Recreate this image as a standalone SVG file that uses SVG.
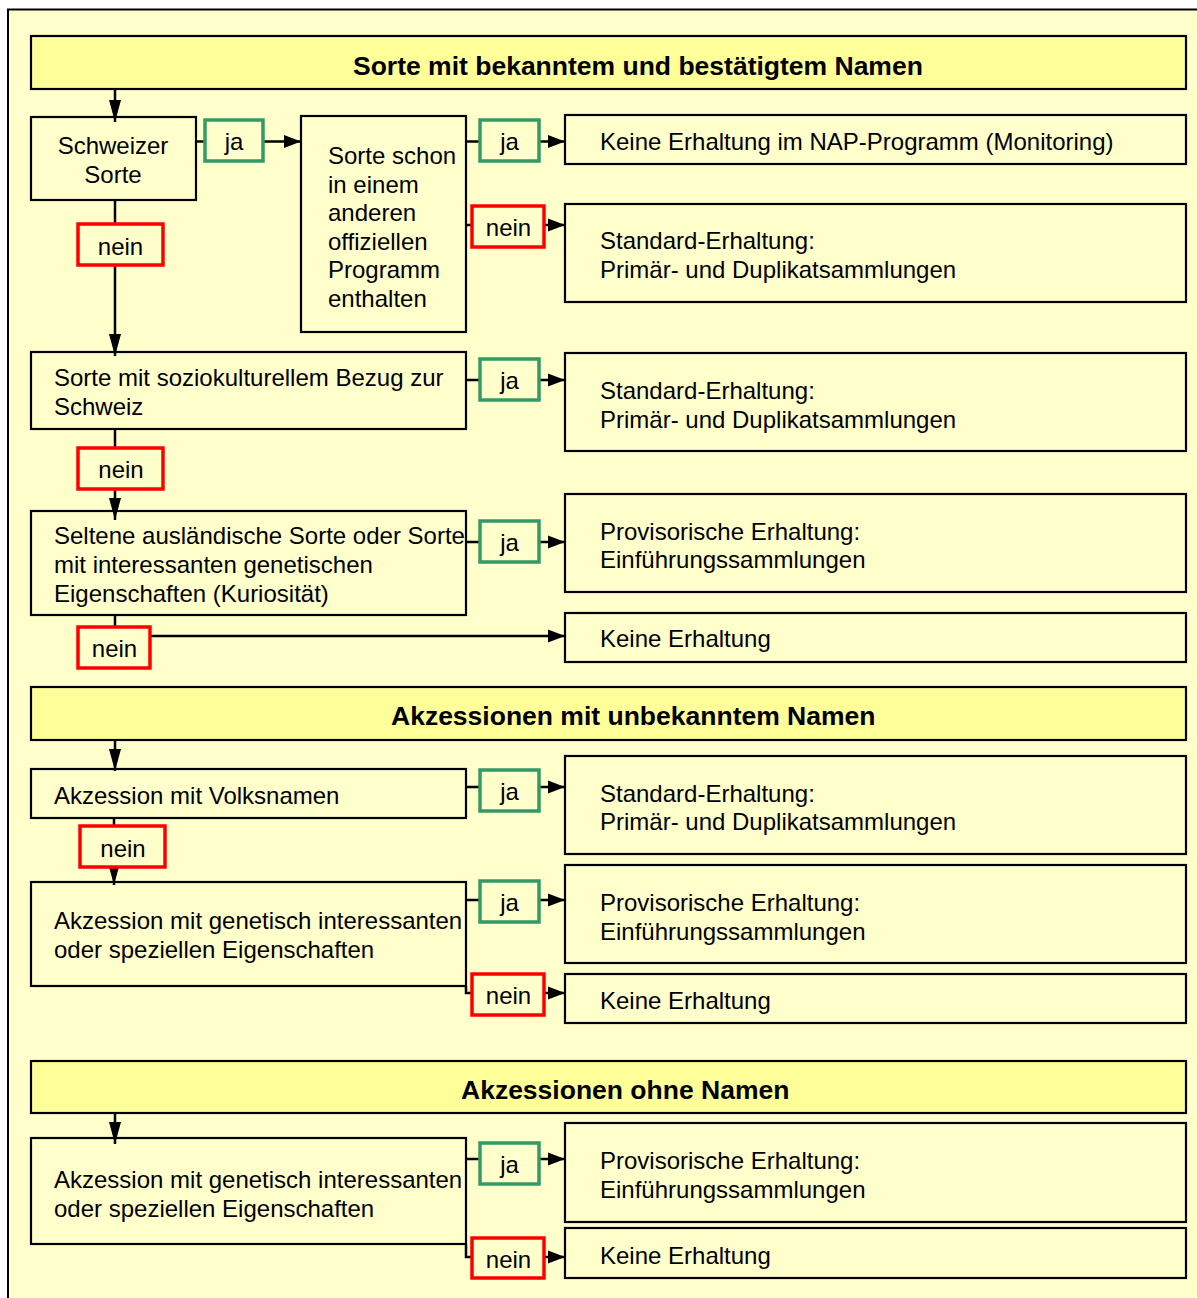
<svg xmlns="http://www.w3.org/2000/svg" width="1197" height="1298" viewBox="0 0 1197 1298">
<style>
.bg{fill:#FFFFCC}
.hd{fill:#FFFF99;stroke:#000;stroke-width:2.2}
.bx{fill:#FFFFCC;stroke:#000;stroke-width:2.2}
.ja{fill:#FFFFCC;stroke:#339966;stroke-width:3.5}
.ne{fill:#FFFFCC;stroke:#FF0000;stroke-width:3.5}
.c{fill:none;stroke:#000;stroke-width:2.5}
.ch{fill:none;stroke:#000;stroke-width:2.5;marker-end:url(#ah)}
.cv{fill:none;stroke:#000;stroke-width:2.5;marker-end:url(#av)}
text{font-family:"Liberation Sans",Arial,sans-serif;font-size:24px;fill:#000}
.h{font-weight:bold;font-size:26.5px}
.m{text-anchor:middle}
</style>
<defs>
<marker id="ah" viewBox="0 0 17 14" refX="17" refY="7" markerWidth="17" markerHeight="14" markerUnits="userSpaceOnUse" orient="auto">
<path d="M0,0.5 L17,7 L0,13.5 z" fill="#000"/>
</marker>
<marker id="av" viewBox="0 0 22 13" refX="22" refY="6.5" markerWidth="22" markerHeight="13" markerUnits="userSpaceOnUse" orient="auto">
<path d="M0,0.5 L22,6.5 L0,12.5 z" fill="#000"/>
</marker>
</defs>
<rect x="0" y="0" width="1197" height="1298" fill="#FFFFFF"/>
<rect class="bg" x="8" y="10" width="1189" height="1288"/>
<path d="M8,1298 V9.5 H1197" fill="none" stroke="#000" stroke-width="2"/>

<g id="header1"><rect class="hd" x="31" y="36" width="1155" height="53"/><text class="h" x="353" y="74.5">Sorte mit bekanntem und bestätigtem Namen</text></g>
<g id="schweizer"><rect class="bx" x="31" y="117" width="165" height="83"/><text class="m" x="113" y="154">Schweizer</text><text class="m" x="113" y="183">Sorte</text></g>
<g id="sorteschon"><rect class="bx" x="301" y="116" width="165" height="216"/><text x="328" y="164">Sorte schon</text><text x="328" y="193">in einem</text><text x="328" y="221">anderen</text><text x="328" y="250">offiziellen</text><text x="328" y="278">Programm</text><text x="328" y="307">enthalten</text></g>
<g id="keine1"><rect class="bx" x="565" y="115" width="621" height="49"/><text x="600" y="149.5">Keine Erhaltung im NAP-Programm (Monitoring)</text></g>
<g id="standard1"><rect class="bx" x="565" y="204" width="621" height="98"/><text x="600" y="249">Standard-Erhaltung:</text><text x="600" y="278">Primär- und Duplikatsammlungen</text></g>
<g id="sozio"><rect class="bx" x="31" y="352" width="435" height="77"/><text x="54" y="386">Sorte mit soziokulturellem Bezug zur</text><text x="54" y="415">Schweiz</text></g>
<g id="standard2"><rect class="bx" x="565" y="353" width="621" height="98"/><text x="600" y="398.5">Standard-Erhaltung:</text><text x="600" y="427.5">Primär- und Duplikatsammlungen</text></g>
<g id="seltene"><rect class="bx" x="31" y="511" width="435" height="104"/><text x="54" y="544">Seltene ausländische Sorte oder Sorte</text><text x="54" y="573">mit interessanten genetischen</text><text x="54" y="602">Eigenschaften (Kuriosität)</text></g>
<g id="prov1"><rect class="bx" x="565" y="494" width="621" height="98"/><text x="600" y="539.5">Provisorische Erhaltung:</text><text x="600" y="567.5">Einführungssammlungen</text></g>
<g id="keine2"><rect class="bx" x="565" y="613" width="621" height="49"/><text x="600" y="646.5">Keine Erhaltung</text></g>
<g id="header2"><rect class="hd" x="31" y="687" width="1155" height="53"/><text class="h" x="391" y="724.5">Akzessionen mit unbekanntem Namen</text></g>
<g id="volks"><rect class="bx" x="31" y="769" width="435" height="49"/><text x="54" y="803.5">Akzession mit Volksnamen</text></g>
<g id="standard3"><rect class="bx" x="565" y="756" width="621" height="98"/><text x="600" y="801.5">Standard-Erhaltung:</text><text x="600" y="829.5">Primär- und Duplikatsammlungen</text></g>
<g id="genetisch1"><rect class="bx" x="31" y="882" width="435" height="104"/><text x="54" y="928.5">Akzession mit genetisch interessanten</text><text x="54" y="957.5">oder speziellen Eigenschaften</text></g>
<g id="prov2"><rect class="bx" x="565" y="865" width="621" height="98"/><text x="600" y="910.5">Provisorische Erhaltung:</text><text x="600" y="939.5">Einführungssammlungen</text></g>
<g id="keine3"><rect class="bx" x="565" y="974" width="621" height="49"/><text x="600" y="1008.5">Keine Erhaltung</text></g>
<g id="header3"><rect class="hd" x="31" y="1061" width="1155" height="52"/><text class="h" x="461" y="1098.5">Akzessionen ohne Namen</text></g>
<g id="genetisch2"><rect class="bx" x="31" y="1138" width="435" height="106"/><text x="54" y="1187.5">Akzession mit genetisch interessanten</text><text x="54" y="1216.5">oder speziellen Eigenschaften</text></g>
<g id="prov3"><rect class="bx" x="565" y="1123" width="621" height="99"/><text x="600" y="1168.5">Provisorische Erhaltung:</text><text x="600" y="1197.5">Einführungssammlungen</text></g>
<g id="keine4"><rect class="bx" x="565" y="1228" width="621" height="50"/><text x="600" y="1263.5">Keine Erhaltung</text></g>

<g id="connectors">
<path class="cv" d="M115,89 V122"/>
<path class="cv" d="M115,200 V356"/>
<path class="cv" d="M115,429 V520"/>
<path class="cv" d="M115,740 V771"/>
<path class="cv" d="M114,818 V885"/>
<path class="cv" d="M115,1113 V1144"/>
<path class="ch" d="M196,141.5 H301"/>
<path class="ch" d="M466,141.5 H565"/>
<path class="ch" d="M466,225 H565"/>
<path class="ch" d="M466,380 H565"/>
<path class="ch" d="M466,542 H565"/>
<path class="ch" d="M115,615 V636 H565"/>
<path class="ch" d="M466,787 H565"/>
<path class="ch" d="M466,900 H565"/>
<path class="ch" d="M466,986 V993 H565"/>
<path class="ch" d="M466,1159 H565"/>
<path class="ch" d="M466,1244 V1257 H565"/>
</g>

<g id="ja1"><rect class="ja" x="205" y="120" width="58" height="41"/><text class="m" x="234" y="150">ja</text></g>
<g id="ja2"><rect class="ja" x="480" y="120" width="59" height="41"/><text class="m" x="509.5" y="150">ja</text></g>
<g id="nein1"><rect class="ne" x="472" y="206" width="72" height="41"/><text class="m" x="508.5" y="236">nein</text></g>
<g id="neinL1"><rect class="ne" x="78" y="224" width="85" height="41"/><text class="m" x="120.5" y="254.5">nein</text></g>
<g id="ja3"><rect class="ja" x="480" y="359" width="59" height="41"/><text class="m" x="509.5" y="389">ja</text></g>
<g id="neinL2"><rect class="ne" x="78" y="448" width="85" height="41"/><text class="m" x="121" y="478">nein</text></g>
<g id="ja4"><rect class="ja" x="480" y="521" width="59" height="41"/><text class="m" x="509.5" y="551">ja</text></g>
<g id="neinL3"><rect class="ne" x="78" y="627" width="72" height="41"/><text class="m" x="114.5" y="657">nein</text></g>
<g id="ja5"><rect class="ja" x="480" y="770" width="59" height="41"/><text class="m" x="509.5" y="800">ja</text></g>
<g id="neinL4"><rect class="ne" x="80" y="826" width="85" height="41"/><text class="m" x="123" y="856.5">nein</text></g>
<g id="ja6"><rect class="ja" x="480" y="881" width="59" height="41"/><text class="m" x="509.5" y="911">ja</text></g>
<g id="neinR2"><rect class="ne" x="472" y="974" width="72" height="41"/><text class="m" x="508.5" y="1004">nein</text></g>
<g id="ja7"><rect class="ja" x="480" y="1143" width="59" height="41"/><text class="m" x="509.5" y="1173">ja</text></g>
<g id="neinR3"><rect class="ne" x="472" y="1238" width="72" height="40"/><text class="m" x="508.5" y="1267.5">nein</text></g>
</svg>
